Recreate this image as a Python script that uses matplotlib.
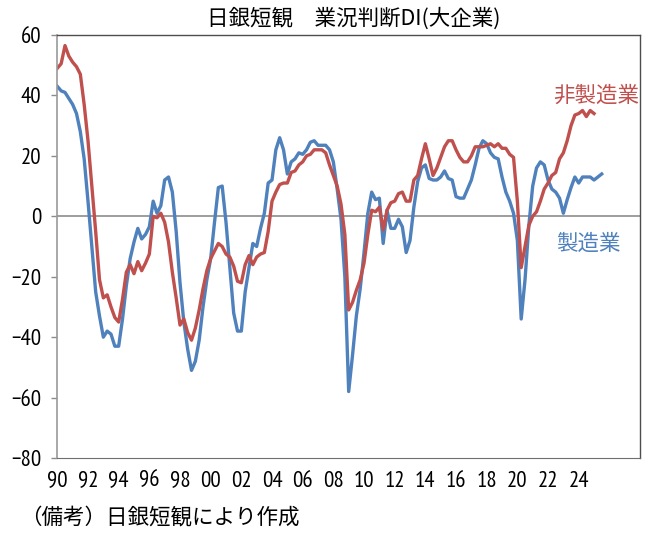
import numpy as np
import matplotlib.pyplot as plt

# 業況判断DI（大企業）, quarterly from 1990Q1
mfg = [43, 41.5, 41, 39, 37, 34, 28, 19, 5, -10,
       -25, -33, -40, -38, -39, -43, -43, -34, -23, -14,
       -8.5, -4, -7.5, -6, -3.5, 5, 1, 3.5, 12, 13,
       8, -5, -22, -35, -44, -51, -48, -41, -30, -21,
       -14, -2, 9.5, 10, -2, -17, -32, -38, -38, -25,
       -17, -9, -10, -4, 1, 11, 12, 22, 26, 22,
       14, 18, 19, 21, 20.5, 22, 24.5, 25, 23.5, 23.5,
       23.5, 22, 18, 9, -1, -20, -58, -46, -33, -24,
       -12, 1, 8, 5.5, 6, -9, 2, -4, -4, -1,
       -3.5, -12, -8, 3, 11.5, 16, 17, 12.5, 12, 12,
       13, 15, 12.5, 12, 6.5, 6, 6, 9, 12, 17,
       22.5, 25, 24, 21, 19.5, 19, 13, 8, 5, 1,
       -8, -34, -21, -3, 10, 16, 18, 17, 12, 9,
       8, 6, 1, 5.5, 9.5, 13, 11, 13, 13, 13,
       12, 13, 14]
nonmfg = [49, 50.5, 56.5, 53, 51, 49.5, 47, 37, 25, 10,
          -5, -21, -27, -26, -30, -33.5, -35, -27.5, -18.5, -16,
          -19, -15, -18, -15.5, -12.5, 0, -0.5, 1, -2, -8.5,
          -18.5, -27, -36, -34, -38.5, -41, -37, -31, -24, -18,
          -14, -11.5, -9, -10, -12.5, -13.5, -16.5, -21.5, -22, -16,
          -13, -16, -13.5, -12.5, -12, -5, 5, 8, 10.5, 11,
          11, 14.5, 15, 17, 18, 20, 20.5, 22, 22, 22,
          21, 17, 13.5, 10, 4, -6, -31, -28.5, -24.5, -21,
          -15.5, -6, 2, 1.5, 3, -4.5, 2, 4.5, 5, 7.5,
          8, 5, 5, 12, 13.5, 19, 24, 19, 13.5, 16,
          19.5, 23, 25, 25, 22, 19.5, 18, 18, 20, 23,
          23, 23, 23.5, 24, 23, 24, 22.5, 22.5, 20.5, 19.5,
          5, -17, -10, -3, 0, 1.5, 5, 9, 11, 13.5,
          14.5, 19, 21, 25, 30, 33.5, 34, 35, 33, 35,
          34]
year_labels = ["90", "92", "94", "96", "98", "00", "02", "04", "06",
               "08", "10", "12", "14", "16", "18", "20", "22", "24"]
yticks = [60, 40, 20, 0, -20, -40, -60, -80]

blue = "#4F81BD"
red = "#C0504D"
jp = ["Noto Sans CJK JP", "DejaVu Sans"]
num = ["PT Sans Narrow", "DejaVu Sans"]

fig = plt.figure(figsize=(6.69, 5.34), dpi=100)
ax = fig.add_axes([0.0857, 0.1423, 0.8710, 0.7922])

ax.plot(np.arange(len(mfg)), mfg, color=blue, lw=2.4, solid_joinstyle="round")
ax.plot(np.arange(len(nonmfg)), nonmfg, color=red, lw=2.4, solid_joinstyle="round")
ax.axhline(0, color="#8c8c8c", lw=1.2, zorder=0)

ax.set_xlim(0, 152)
ax.set_ylim(-80, 60)
ax.set_yticks(yticks)
ax.set_yticklabels([str(v).replace("-", "\u2212") for v in yticks], family=num, fontsize=16.5)
ax.set_xticks(np.arange(len(year_labels)) * 8)
ax.set_xticklabels(year_labels, family=num, fontsize=16.5)
ax.tick_params(axis="y", length=4.5, width=1, color="#8c8c8c", pad=7)
ax.tick_params(axis="x", length=0, pad=9)

for side in ["top", "right"]:
    ax.spines[side].set_color("#4d4d4d")
    ax.spines[side].set_linewidth(1.0)
ax.spines["bottom"].set_color("#6e6e6e")
ax.spines["left"].set_color("#9a9a9a")
ax.spines["left"].set_linewidth(1.2)

ax.text(129.4, 40, "非製造業", color=red, fontsize=15.5, family=jp, va="center", ha="left")
ax.text(130, -9, "製造業", color=blue, fontsize=15.5, family=jp, va="center", ha="left")

fig.text(354 / 669, 1 - 19 / 534, "日銀短観\u3000業況判断DI(大企業)", fontsize=15.5, family=jp,
         ha="center", va="center")
fig.text(20 / 669, 1 - 517 / 534, "（備考）日銀短観により作成", fontsize=15.5, family=jp,
         ha="left", va="center")

fig.savefig("out.png", dpi=100)
